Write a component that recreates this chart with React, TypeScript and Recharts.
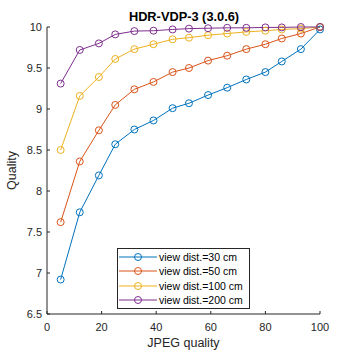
import React from 'react';
import { LineChart, Line, XAxis, YAxis } from 'recharts';

const jpegQuality = [5, 12, 19, 25, 32, 39, 46, 52, 59, 66, 73, 80, 86, 93, 100];
const dist30 = [6.92, 7.74, 8.19, 8.57, 8.75, 8.86, 9.01, 9.07, 9.17, 9.26, 9.36, 9.45, 9.58, 9.73, 9.97];
const dist50 = [7.62, 8.36, 8.74, 9.05, 9.24, 9.33, 9.45, 9.5, 9.59, 9.65, 9.73, 9.79, 9.86, 9.92, 10.0];
const dist100 = [8.5, 9.16, 9.39, 9.61, 9.73, 9.79, 9.85, 9.87, 9.9, 9.92, 9.94, 9.955, 9.97, 9.98, 10.0];
const dist200 = [9.31, 9.72, 9.8, 9.91, 9.95, 9.955, 9.97, 9.98, 9.985, 9.99, 9.99, 9.995, 9.995, 10.0, 10.0];

const xTicks = [0, 20, 40, 60, 80, 100];
const yTicks = [6.5, 7, 7.5, 8, 8.5, 9, 9.5, 10];

const series = [
  { key: 'd30', name: 'view dist.=30 cm', color: '#0072BD', values: dist30 },
  { key: 'd50', name: 'view dist.=50 cm', color: '#D95319', values: dist50 },
  { key: 'd100', name: 'view dist.=100 cm', color: '#EDB120', values: dist100 },
  { key: 'd200', name: 'view dist.=200 cm', color: '#7E2F8E', values: dist200 },
];

const data = jpegQuality.map((q, i) => {
  const row: Record<string, number> = { q };
  series.forEach((s) => {
    row[s.key] = s.values[i];
  });
  return row;
});

const font = 'Liberation Sans, Arial, sans-serif';
const ink = '#262626';
const tickStyle = { fontSize: 11, fill: ink, fontFamily: font };

function LegendBox() {
  return (
    <div
      style={{
        position: 'absolute',
        left: 117,
        top: 248,
        width: 133,
        height: 61,
        border: '1px solid #262626',
        background: '#fff',
        padding: '1px 0',
        fontFamily: font,
        fontSize: 10.5,
        color: '#000',
        boxSizing: 'border-box',
      }}
    >
      {series.map((s) => (
        <div key={s.key} style={{ display: 'flex', alignItems: 'center', height: 14.3 }}>
          <svg width={40} height={12} style={{ marginLeft: 1 }}>
            <line x1={0} y1={6} x2={38} y2={6} stroke={s.color} strokeWidth={1} />
            <circle cx={19} cy={6} r={3.5} stroke={s.color} fill="none" strokeWidth={1} />
          </svg>
          <span style={{ whiteSpace: 'nowrap' }}>{s.name}</span>
        </div>
      ))}
    </div>
  );
}

export default function App() {
  return (
    <div style={{ position: 'absolute', left: 0, top: 0, width: 354, height: 354, background: '#fff' }}>
      <LineChart width={354} height={354} data={data} margin={{ top: 27, right: 34, bottom: 0, left: 0 }}>
        <XAxis
          xAxisId="bottom"
          dataKey="q"
          type="number"
          domain={[0, 100]}
          ticks={xTicks}
          height={40}
          tickSize={-3}
          tickMargin={12}
          stroke={ink}
          tick={tickStyle}
          label={{ value: 'JPEG quality', position: 'insideBottom', offset: 7, fill: ink, fontSize: 12.5, fontFamily: font }}
        />
        <XAxis
          xAxisId="top"
          dataKey="q"
          type="number"
          orientation="top"
          domain={[0, 100]}
          ticks={xTicks}
          height={0}
          tickSize={-3}
          stroke={ink}
          tick={() => <g />}
        />
        <YAxis
          yAxisId="left"
          type="number"
          domain={[6.5, 10]}
          ticks={yTicks}
          width={47}
          tickSize={-3}
          tickMargin={8}
          stroke={ink}
          tick={tickStyle}
          label={{ value: 'Quality', angle: -90, position: 'insideLeft', offset: 12, fill: ink, fontSize: 12.5, fontFamily: font, style: { textAnchor: 'middle' } }}
        />
        <YAxis
          yAxisId="right"
          orientation="right"
          type="number"
          domain={[6.5, 10]}
          ticks={yTicks}
          width={0}
          tickSize={-3}
          stroke={ink}
          tick={() => <g />}
        />
        {series.map((s) => (
          <Line
            key={s.key}
            xAxisId="bottom"
            yAxisId="left"
            type="linear"
            dataKey={s.key}
            name={s.name}
            stroke={s.color}
            strokeWidth={1}
            dot={{ r: 3.5, stroke: s.color, fill: 'none', strokeWidth: 1 }}
            isAnimationActive={false}
          />
        ))}
      </LineChart>
      <svg width={354} height={27} style={{ position: 'absolute', left: 0, top: 0 }}>
        <text x={184} y={21} textAnchor="middle" fontFamily={font} fontSize={12.8} fontWeight="bold" fill="#000">
          HDR-VDP-3 (3.0.6)
        </text>
      </svg>
      <LegendBox />
    </div>
  );
}
